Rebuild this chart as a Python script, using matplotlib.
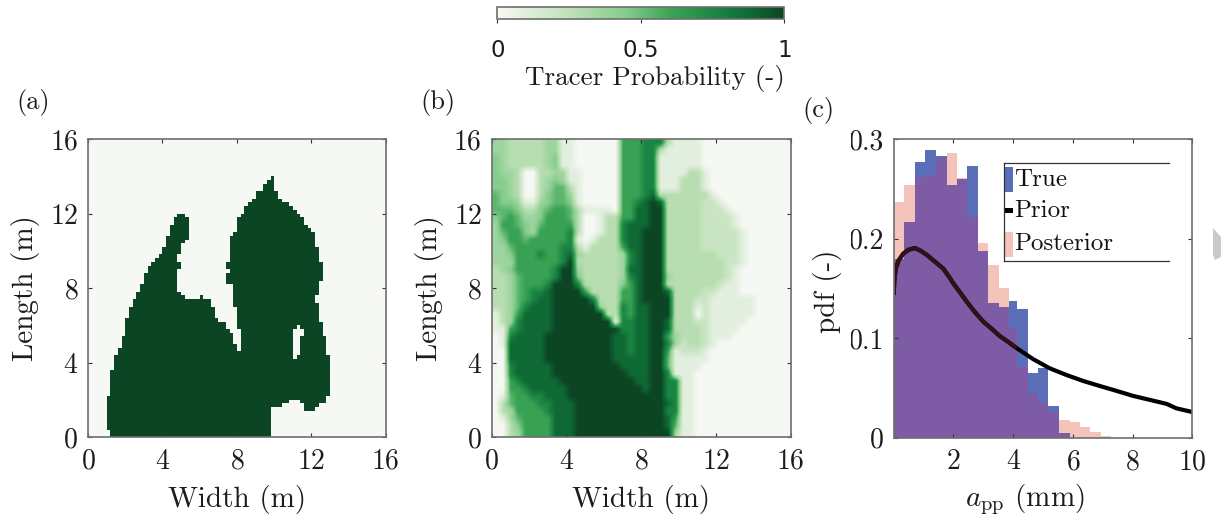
import numpy as np
import matplotlib
matplotlib.use('Agg')
import matplotlib.pyplot as plt
from matplotlib.colors import LinearSegmentedColormap
from matplotlib.patches import Polygon, Rectangle
from matplotlib.lines import Line2D
from matplotlib.transforms import Bbox

plt.rcParams['font.family'] = ['cmr10', 'DejaVu Sans']
plt.rcParams['mathtext.fontset'] = 'cm'
plt.rcParams['axes.unicode_minus'] = False
plt.rcParams['axes.formatter.use_mathtext'] = True

W, H = 1221, 518

# panel (a): filled cells per row of an 80x80 grid, (row from bottom): [start, stop] columns
A_RUNS = {
    69: [(49, 50)], 68: [(48, 50)], 67: [(47, 50)], 66: [(47, 50)], 65: [(45, 51)], 64: [(45, 51)],
    63: [(44, 52)], 62: [(43, 54)], 61: [(42, 55)], 60: [(42, 56)],
    59: [(24, 26), (41, 57)], 58: [(23, 27), (40, 58)], 57: [(23, 27), (40, 58)],
    56: [(22, 27), (40, 59)], 55: [(22, 27), (40, 60)], 54: [(22, 27), (39, 61)],
    53: [(21, 27), (38, 61)], 52: [(21, 26), (38, 61)], 51: [(21, 25), (38, 61)],
    50: [(20, 25), (38, 62)], 49: [(20, 25), (38, 62)], 48: [(19, 24), (38, 62)],
    47: [(18, 24), (38, 62)], 46: [(17, 25), (37, 63)], 45: [(16, 25), (37, 63)],
    44: [(16, 24), (38, 63)], 43: [(15, 24), (37, 63)], 42: [(15, 24), (37, 63)],
    41: [(15, 24), (37, 62)], 40: [(14, 24), (39, 62)], 39: [(14, 24), (39, 62)],
    38: [(13, 25), (39, 62)], 37: [(13, 26), (30, 31), (39, 61)], 36: [(12, 33), (39, 61)],
    35: [(12, 33), (39, 62)], 34: [(11, 34), (40, 62)], 33: [(11, 34), (40, 62)],
    32: [(11, 34), (40, 62)], 31: [(10, 35), (40, 62)], 30: [(10, 37), (40, 63)],
    29: [(10, 37), (40, 56), (57, 63)], 28: [(10, 38), (41, 55), (58, 63)],
    27: [(10, 39), (41, 55), (58, 63)], 26: [(9, 39), (41, 55), (57, 64)],
    25: [(9, 39), (41, 55), (57, 64)], 24: [(9, 40), (41, 55), (57, 64)],
    23: [(8, 40), (41, 55), (57, 64)], 22: [(8, 55), (57, 64)], 21: [(7, 55), (56, 65)],
    20: [(7, 65)], 19: [(7, 65)], 18: [(7, 65)], 17: [(6, 65)], 16: [(6, 65)], 15: [(6, 65)],
    14: [(6, 65)], 13: [(6, 65)], 12: [(6, 65)], 11: [(6, 65)], 10: [(5, 64)],
    9: [(5, 54), (57, 64)], 8: [(5, 52), (58, 62)], 7: [(5, 49), (58, 61)], 6: [(5, 49)],
    5: [(5, 49)], 4: [(5, 49)], 3: [(5, 49)], 2: [(5, 49)], 1: [(6, 49)], 0: [(6, 49)],
}

# panel (b): probability class per cell (hex digit), top row first, 40 columns (missing tail = 0)
B_ROWS = [
    "33222223311000000666777211110",
    "3322222331100000066677211111",
    "4322222341100000066677111111",
    "4322222341100000066677111111",
    "43320022331100000666771111221",
    "44320023431100000666771112221",
    "44320023552100000666771112221",
    "54320024553100000666782222222" + "1",
    "544311345541" + "00000" + "667" + "898" + "22222" + "aa" + "1",
    "555422456652" + "11110" + "668" + "899" + "22222" + "aaa" + "1",
    "456533466652" + "00122" + "668" + "899" + "22222" + "aaaa" + "1",
    "366543566662" + "00122" + "788" + "899" + "22222" + "aaaa" + "1",
    "356643666672" + "00122" + "788" + "999" + "22222" + "aaaaa" + "1",
    "346656666671" + "01222" + "788" + "999" + "22222" + "aaaaa" + "1",
    "335666666772" + "12222" + "688" + "999" + "22222" + "aaaaa" + "1",
    "334666766783" + "22222" + "378" + "999" + "22222" + "22aaa" + "1",
    "333666666792" + "22222" + "378" + "999" + "22222" + "222aa" + "1",
    "234666667993" + "22222" + "388" + "999" + "22222" + "222a" + "1",
    "223566667994" + "22222" + "378" + "999" + "3" + "2222" + "222a" + "1",
    "223566679997" + "22222" + "468" + "999" + "22222" + "22a" + "11",
    "223567789999" + "62222" + "668" + "999" + "8" + "2222" + "a" + "a111",
    "223567889999" + "97222" + "668" + "999" + "9" + "222" + "aa" + "111111",
    "223578889999" + "99322" + "768" + "899" + "9" + "222" + "1a" + "111111",
    "123688889999" + "99922" + "768" + "899" + "9" + "222" + "0a" + "111111",
    "123788889999" + "99991" + "778" + "899" + "8" + "222" + "aa" + "11111",
    "116788889999" + "99999" + "778" + "899" + "8" + "2222" + "a" + "1111",
    "017888899999" + "99998" + "878" + "899" + "6" + "3" + "222" + "a" + "111",
    "018888899999" + "99998" + "878" + "899" + "7" + "3" + "a22" + "a" + "1",
    "008888899999" + "99998" + "878" + "899" + "6" + "1aaa" + "1",
    "008888899999" + "99998" + "888" + "899" + "5" + "11111",
    "007888889999" + "99999" + "888" + "899" + "5" + "1111",
    "007888889999" + "99999" + "988" + "899" + "7" + "111",
    "006788888999" + "99999" + "998" + "899" + "77" + "11",
    "006678888899" + "99999" + "999" + "899" + "77" + "11",
    "015667788899" + "99999" + "999" + "999" + "77" + "11",
    "025666778889" + "99999" + "999" + "999" + "87" + "11",
    "023666678889" + "99999" + "999" + "999" + "77" + "11",
    "013566668889" + "99999" + "999" + "999" + "86" + "11",
    "002466668889" + "99999" + "999" + "999" + "85" + "11",
    "002366668889" + "99999" + "999" + "999" + "93" + "11",
]
B_LEVELS = [0.0, 0.09, 0.28, 0.36, 0.44, 0.53, 0.62, 0.76, 0.88, 1.0, 0.2]

# panel (c)
bin_edges = [0, .35, .71, 1.06, 1.41, 1.77, 2.11, 2.46, 2.82, 3.16, 3.52, 3.87, 4.14, 4.49,
             4.84, 5.18, 5.54, 5.89, 6.25, 6.59, 6.94, 7.29]
true_pdf = [.180, .217, .277, .289, .283, .254, .260, .273, .188, .135, .131, .137, .129, .065,
            .070, .032, .005, 0, 0, 0, 0]
post_pdf = [.237, .254, .262, .264, .281, .286, .261, .222, .196, .174, .151, .110, .071, .045,
            .036, .026, .018, .016, .011, .0055, .002]
prior_x = [0.0, .02, .07, .16, .32, .5, .71, .9, 1.1, 1.38, 1.66, 1.85, 2.0, 2.2, 2.44, 2.7, 3.0,
           3.3, 3.56, 3.85, 4.12, 4.68, 5.23, 5.79, 6.35, 6.9, 7.47, 8.02, 8.58, 9.14, 9.47, 10.0]
prior_y = [.1435, .158, .170, .178, .185, .189, .1907, .188, .184, .177, .170, .162, .155, .147,
           .137, .127, .1167, .109, .102, .096, .09, .0788, .0697, .063, .057, .052, .047, .042,
           .038, .034, .0295, .0258]

grid_ticks = [0, 4, 8, 12, 16]
pdf_x_ticks = [2, 4, 6, 8, 10]
pdf_y_ticks = [0, 0.1, 0.2, 0.3]
pdf_y_labels = ['0', '0.1', '0.2', '0.3']
cbar_ticks = [0, 0.5, 1]
cbar_labels = ['0', '0.5', '1']

cmap = LinearSegmentedColormap.from_list('tracer', [
    (0.0, '#f6f8f4'), (0.25, '#c0e1b8'), (0.45, '#84cb8b'), (0.6, '#3da556'),
    (0.76, '#1b8543'), (0.88, '#0f6a35'), (1.0, '#0b4524')])

TXT = '#1c1c1c'
LABEL_FS = 21
TICK_FS = 20

fig = plt.figure(figsize=(W / 100, H / 100), dpi=100)


def px_axes(x0, y0, x1, y1):
    # pixel box (y from top) to an axes
    return fig.add_axes([x0 / W, 1 - y1 / H, (x1 - x0) / W, (y1 - y0) / H])


def style(ax):
    for s in ax.spines.values():
        s.set_color('#6e6e6e')
        s.set_linewidth(1.2)
    ax.tick_params(direction='in', top=True, right=True, length=3, width=0.8,
                   color='#333333', labelsize=TICK_FS, labelcolor=TXT)
    ax.tick_params(axis='x', pad=8)
    ax.tick_params(axis='y', pad=7)


def grid_panel(ax, data, interp):
    ax.imshow(data, origin='lower', extent=[0, 16, 0, 16], cmap=cmap, vmin=0, vmax=1,
              aspect='auto', interpolation=interp)
    ax.set_xticks(grid_ticks)
    ax.set_yticks(grid_ticks)
    ax.set_xlabel('Width (m)', fontsize=LABEL_FS, color=TXT)
    ax.set_ylabel('Length (m)', fontsize=LABEL_FS, color=TXT)
    ax.xaxis.set_label_coords(0.5, -48 / 298)
    ax.yaxis.set_label_coords(-48 / 298, 0.5)
    style(ax)


# (a)
grid_a = np.zeros((80, 80))
for row, runs in A_RUNS.items():
    for start, stop in runs:
        grid_a[row, start:stop] = 1.0
ax1 = px_axes(88, 139.3, 385.7, 437.3)
grid_panel(ax1, grid_a, 'nearest')

# (b)
grid_b = np.array([[B_LEVELS[int(c, 16)] for c in r.ljust(40, '0')] for r in B_ROWS])[::-1]
ax2 = px_axes(491.7, 139.3, 790.7, 437.3)
grid_panel(ax2, grid_b, 'bilinear')

# (c)
edges = np.array(bin_edges)
true_arr = np.array(true_pdf)
post_arr = np.array(post_pdf)
ax3 = px_axes(893.7, 139.3, 1192.3, 437.7)
ax3.stairs(true_arr, edges, fill=True, color='#5a6fb8', lw=0)
ax3.stairs(post_arr, edges, fill=True, color='#f4c3ba', lw=0)
ax3.stairs(np.minimum(true_arr, post_arr), edges, fill=True, color='#7e5ba5', lw=0)
ax3.plot(prior_x, prior_y, color='black', lw=3, solid_capstyle='butt')
px = np.array(prior_x)
ax3.plot(px[px <= 4.12], np.array(prior_y)[px <= 4.12], color='#32101a', lw=3,
         solid_capstyle='butt')
ax3.set_xlim(0, 10)
ax3.set_ylim(0, 0.3)
ax3.set_xticks(pdf_x_ticks)
ax3.set_yticks(pdf_y_ticks)
ax3.set_yticklabels(pdf_y_labels)
ax3.set_xlabel(r'$a_{\mathrm{pp}}$ (mm)', fontsize=LABEL_FS, color=TXT)
ax3.set_ylabel('pdf (-)', fontsize=LABEL_FS, color=TXT)
ax3.xaxis.set_label_coords((1025 - 893.7) / 298.6, -44 / 298)
ax3.yaxis.set_label_coords((842 - 893.7) / 298.6, 0.49)
style(ax3)
# the tick labels are cut off on the left in the source image
for lab in ax3.get_yticklabels():
    lab.set_clip_box(Bbox([[851, 0], [W, H]]))
    lab.set_clip_on(True)

# legend of (c), open on the right
legend_lines = [((1004, 1004), (162.7, 261)), ((1004, 1169), (162.7, 162.7)), ((1004, 1169), (261, 261))]
for xs, ys in legend_lines:
    fig.add_artist(Line2D([x / W for x in xs], [1 - y / H for y in ys], color='#333333', lw=0.9))
fig.add_artist(Rectangle((1005 / W, 1 - 192 / H), 7.5 / W, 25 / H, color='#5a6fb8', lw=0,
                         transform=fig.transFigure))
fig.add_artist(Rectangle((1005 / W, 1 - 213 / H), 7.5 / W, 5 / H, color='black', lw=0,
                         transform=fig.transFigure))
fig.add_artist(Rectangle((1005 / W, 1 - 257 / H), 7.5 / W, 25 / H, color='#f4c3ba', lw=0,
                         transform=fig.transFigure))
for label, y in zip(['True', 'Prior', 'Posterior'], [180, 211, 244]):
    fig.text(1014 / W, 1 - y / H, label, fontsize=18, color='#111111', va='center', ha='left')

# colorbar
cax = px_axes(497.3, 7.3, 784.3, 19.3)
sm = plt.cm.ScalarMappable(cmap=cmap, norm=plt.Normalize(0, 1))
cb = fig.colorbar(sm, cax=cax, orientation='horizontal', ticks=cbar_ticks)
cb.ax.set_xticklabels(cbar_labels, family='DejaVu Sans', fontsize=16.5, color=TXT)
cb.ax.tick_params(length=3, width=0.8, color='#333333', pad=11)
cb.outline.set_edgecolor('#6e6e6e')
cb.outline.set_linewidth(1.2)
fig.text(655 / W, 1 - 78 / H, 'Tracer Probability (-)', fontsize=19.5, color=TXT,
         ha='center', va='center')

# panel letters
for letter, x, y in [('(a)', 16, 103), ('(b)', 420, 103), ('(c)', 802, 110)]:
    fig.text(x / W, 1 - y / H, letter, fontsize=19, color=TXT, ha='left', va='center')

# scrap of grey at the page edge
edge_scrap = [(1213, 228), (1221, 237), (1221, 257), (1215, 260), (1213, 255)]
fig.add_artist(Polygon([(x / W, 1 - y / H) for x, y in edge_scrap], closed=True, color='#c9c9c9',
                       lw=0, transform=fig.transFigure))

fig.savefig('out.png', dpi=100)
